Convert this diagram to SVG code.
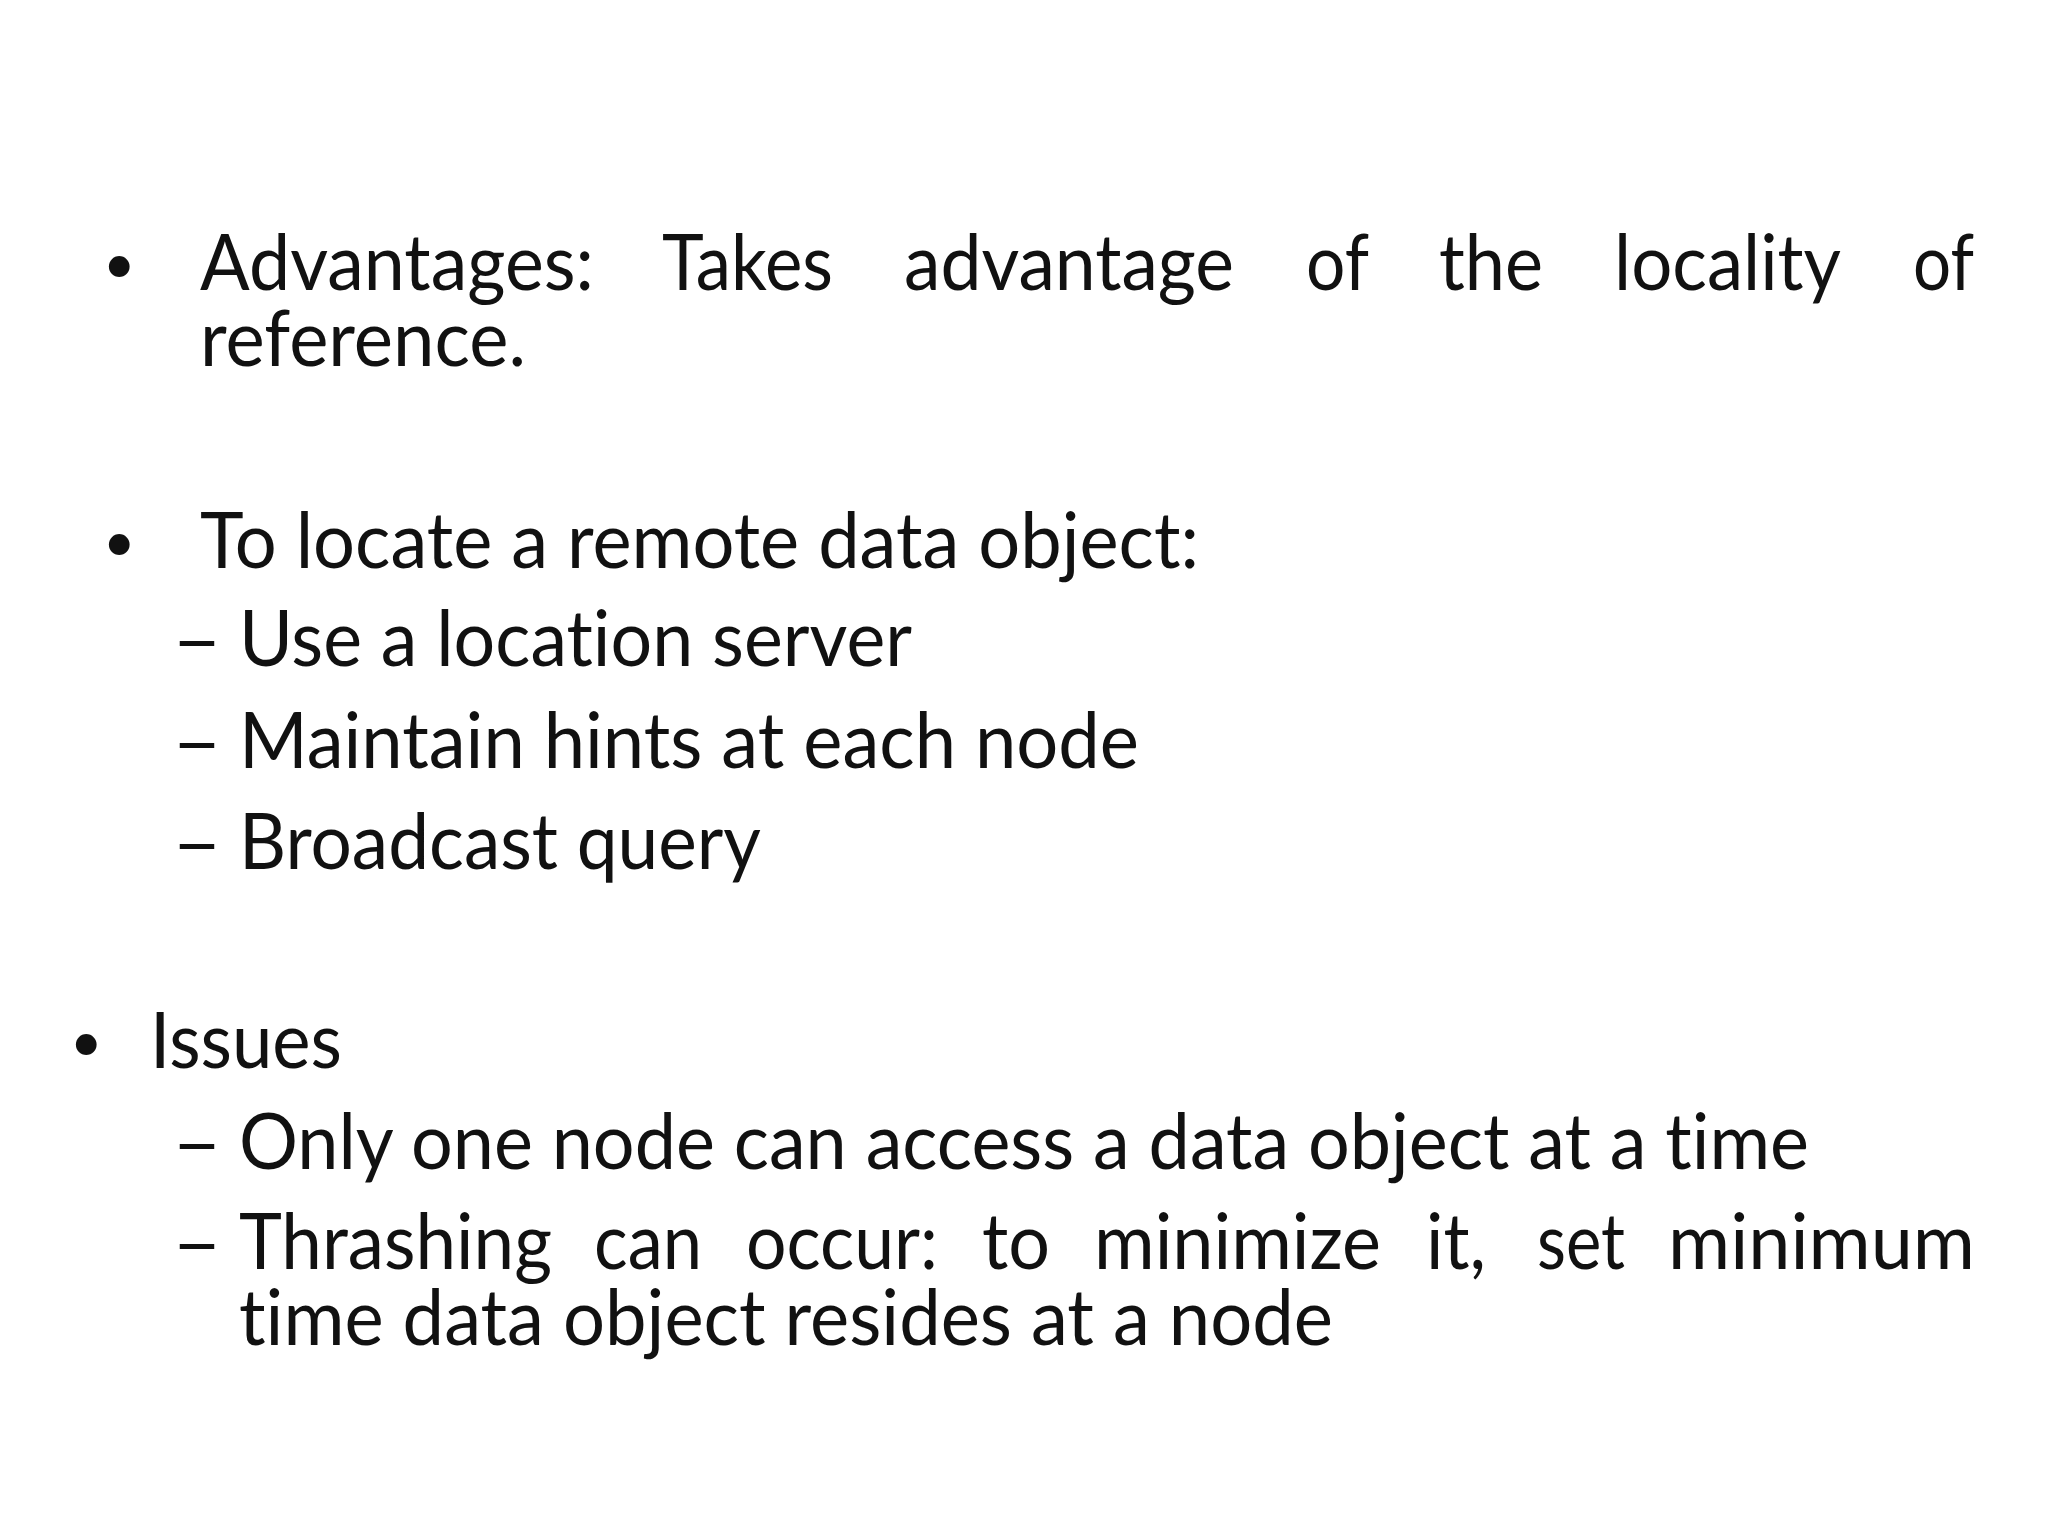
<svg xmlns="http://www.w3.org/2000/svg" width="2048" height="1536" viewBox="0 0 2048 1536">
<style>text{font-family:Lato,"Open Sans",sans-serif;font-size:78px;fill:#111;font-variant-ligatures:none}.b{font-size:56px}</style>
<rect width="2048" height="1536" fill="#fff"/>
<g id="adv">
<text class="b" x="103" y="283">•</text>
<text x="200" y="290" textLength="394" lengthAdjust="spacingAndGlyphs">Advantages:</text>
<text x="662" y="290" textLength="171" lengthAdjust="spacingAndGlyphs">Takes</text>
<text x="904" y="290" textLength="330" lengthAdjust="spacingAndGlyphs">advantage</text>
<text x="1306" y="290" textLength="63" lengthAdjust="spacingAndGlyphs">of</text>
<text x="1439" y="290" textLength="104" lengthAdjust="spacingAndGlyphs">the</text>
<text x="1614" y="290" textLength="227" lengthAdjust="spacingAndGlyphs">locality</text>
<text x="1913" y="290" textLength="61" lengthAdjust="spacingAndGlyphs">of</text>
<text x="200" y="366" textLength="326" lengthAdjust="spacingAndGlyphs">reference.</text>
</g>
<g id="locate">
<text class="b" x="103" y="561">•</text>
<text x="200" y="568" textLength="999" lengthAdjust="spacingAndGlyphs">To locate a remote data object:</text>
<text x="172" y="666" textLength="50" lengthAdjust="spacingAndGlyphs">–</text>
<text x="239" y="666" textLength="673" lengthAdjust="spacingAndGlyphs">Use a location server</text>
<text x="172" y="768" textLength="50" lengthAdjust="spacingAndGlyphs">–</text>
<text x="239" y="768" textLength="900" lengthAdjust="spacingAndGlyphs">Maintain hints at each node</text>
<text x="172" y="869" textLength="50" lengthAdjust="spacingAndGlyphs">–</text>
<text x="239" y="869" textLength="522" lengthAdjust="spacingAndGlyphs">Broadcast query</text>
</g>
<g id="issues">
<text class="b" x="70" y="1061">•</text>
<text x="150" y="1068" textLength="192" lengthAdjust="spacingAndGlyphs">Issues</text>
<text x="172" y="1169" textLength="50" lengthAdjust="spacingAndGlyphs">–</text>
<text x="239" y="1169" textLength="1570" lengthAdjust="spacingAndGlyphs">Only one node can access a data object at a time</text>
<text x="172" y="1269" textLength="50" lengthAdjust="spacingAndGlyphs">–</text>
<text x="239" y="1269" textLength="313" lengthAdjust="spacingAndGlyphs">Thrashing</text>
<text x="594" y="1269" textLength="108" lengthAdjust="spacingAndGlyphs">can</text>
<text x="746" y="1269" textLength="192" lengthAdjust="spacingAndGlyphs">occur:</text>
<text x="982" y="1269" textLength="68" lengthAdjust="spacingAndGlyphs">to</text>
<text x="1094" y="1269" textLength="287" lengthAdjust="spacingAndGlyphs">minimize</text>
<text x="1426" y="1269" textLength="60" lengthAdjust="spacingAndGlyphs">it,</text>
<text x="1537" y="1269" textLength="88" lengthAdjust="spacingAndGlyphs">set</text>
<text x="1668" y="1269" textLength="307" lengthAdjust="spacingAndGlyphs">minimum</text>
<text x="239" y="1345" textLength="1094" lengthAdjust="spacingAndGlyphs">time data object resides at a node</text>
</g>
</svg>
